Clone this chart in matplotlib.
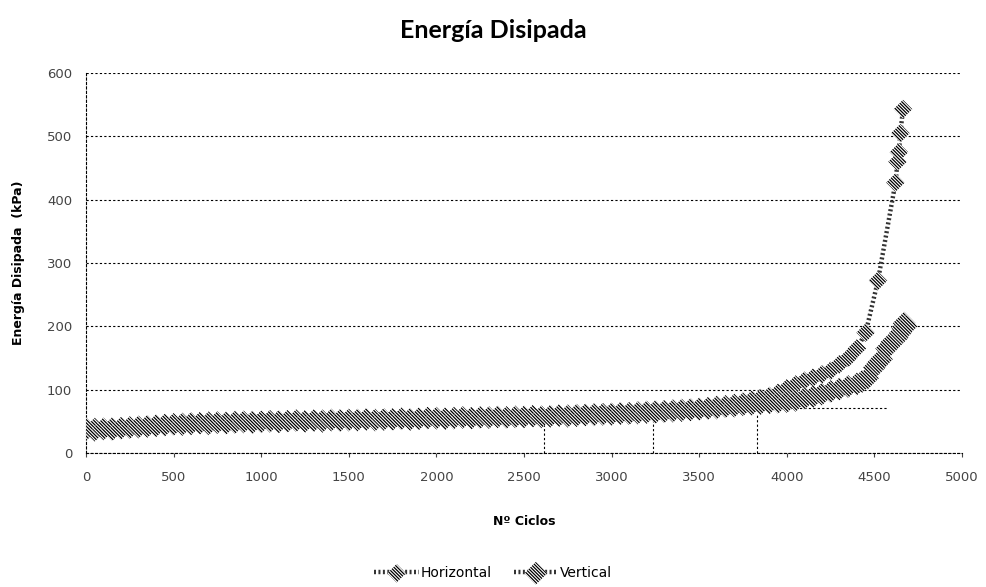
import numpy as np
import matplotlib
matplotlib.use("Agg")
import matplotlib.pyplot as plt

plt.rcParams['hatch.linewidth'] = 0.9

# ciclos cada 50 hasta 3900
ciclos = np.arange(0, 3901, 50)

horiz_y = [42, 41, 40, 42, 41, 43, 44, 45, 46, 47, 48, 49, 50, 49, 51, 50, 51, 52, 51, 52,
           52, 51, 53, 52, 53, 52, 53, 54, 53, 54, 54, 53, 55, 54, 55, 54, 55, 56, 55, 56,
           56, 57, 56, 57, 57, 58, 57, 58, 58, 59, 59, 60, 60, 61, 62, 62, 63, 63, 64, 64,
           65, 66, 66, 67, 68, 69, 69, 70, 71, 72, 73, 74, 76, 77, 79, 81, 84, 87, 90]
vert_y = [37, 36, 38, 37, 39, 40, 41, 42, 43, 44, 45, 45, 46, 47, 46, 48, 47, 48, 49, 48,
          49, 50, 49, 50, 51, 50, 51, 50, 52, 51, 52, 52, 53, 52, 53, 53, 54, 53, 54, 55,
          55, 54, 55, 56, 55, 56, 56, 57, 56, 57, 57, 58, 57, 58, 59, 58, 59, 60, 60, 61,
          61, 62, 62, 63, 64, 64, 65, 66, 67, 68, 69, 70, 71, 73, 74, 76, 77, 78, 79]

# tramo final
horiz_tail_x = [3950, 4000, 4050, 4100, 4150, 4200, 4250, 4300, 4350, 4400, 4450, 4520, 4620, 4632, 4640, 4648, 4663]
horiz_tail_y = [95, 102, 108, 114, 119, 124, 130, 140, 150, 165, 190, 272, 427, 460, 475, 505, 543]
vert_tail_x = [3950, 4000, 4050, 4100, 4150, 4200, 4250, 4300, 4350, 4400, 4430, 4460, 4500, 4520,
               4540, 4570, 4600, 4630, 4650, 4660, 4670, 4680]
vert_tail_y = [80, 81, 83, 86, 89, 93, 97, 101, 105, 109, 113, 118, 135, 142,
               148, 165, 175, 182, 190, 198, 205, 200]

hx = np.concatenate([ciclos, horiz_tail_x])
hy = np.concatenate([horiz_y, horiz_tail_y])
vx = np.concatenate([ciclos, vert_tail_x])
vy = np.concatenate([vert_y, vert_tail_y])

# lineas de referencia (punteadas)
drop_x = [2614, 3236, 3830]
drop_top = [47, 52, 60]
ref_y = 71
ref_x0, ref_x1 = 3818, 4578

fig = plt.figure(figsize=(9.86, 5.87), dpi=100)
ax = fig.add_axes([0.0872, 0.2283, 0.8885, 0.6473])

hatch = '\\' * 10
lh, = ax.plot(hx, hy, color='#333333', lw=3.2, ls=(0, (0.45, 0.55)), zorder=2)
lv, = ax.plot(vx, vy, color='#333333', lw=3.2, ls=(0, (0.45, 0.55)), zorder=2)
sh = ax.scatter(hx, hy, marker='D', s=90, facecolor='white', edgecolor='black',
                linewidths=0, hatch=hatch, zorder=3)
sv = ax.scatter(vx, vy, marker='D', s=135, facecolor='white', edgecolor='black',
                linewidths=0, hatch=hatch, zorder=3)

for x, t in zip(drop_x, drop_top):
    ax.plot([x, x], [0, t], color='black', lw=0.8, ls=(0, (2, 2)), zorder=1)
ax.plot([ref_x0, ref_x1], [ref_y, ref_y], color='black', lw=0.8, ls=(0, (2, 2)), zorder=1)

ax.set_xlim(0, 5000)
ax.set_ylim(0, 600)
ax.set_xticks(np.arange(0, 5001, 500))
ax.set_yticks(np.arange(0, 601, 100))
ax.yaxis.grid(True, color='black', lw=0.8, ls=(0, (2, 2)))
ax.set_axisbelow(True)
for s in ['top', 'right']:
    ax.spines[s].set_visible(False)
for s in ['left', 'bottom']:
    ax.spines[s].set_linestyle((0, (2, 2)))
    ax.spines[s].set_linewidth(0.8)
ax.tick_params(axis='both', length=3, width=0.8, labelsize=9.5, colors='#444444', pad=10)
ax.tick_params(axis='y', length=0)

ax.set_xlabel('Nº Ciclos', fontsize=9, fontweight='bold', labelpad=22)
ax.set_ylabel('Energía Disipada  (kPa)', fontsize=9, fontweight='bold', labelpad=16)
fig.suptitle('Energía Disipada', x=0.5, y=0.968, fontsize=18, fontweight='bold', family='Lato')

fig.legend([(lh, sh), (lv, sv)], ['Horizontal', 'Vertical'], loc='center',
           bbox_to_anchor=(0.5, 0.024), ncol=2, frameon=False, fontsize=10,
           handlelength=3.2, columnspacing=1.6, handletextpad=0.1)

fig.savefig('out.png', dpi=100)
